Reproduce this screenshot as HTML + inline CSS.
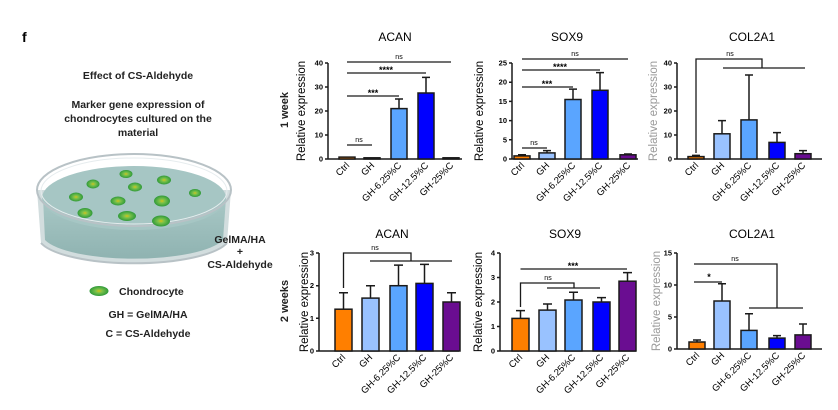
<!DOCTYPE html>
<html><head><meta charset="utf-8"><style>
body{margin:0;background:#fff}
svg{display:block;font-family:"Liberation Sans",Arial,sans-serif}
.b{stroke:#1a1a1a;stroke-width:1.5}
.ax{stroke:#1a1a1a;stroke-width:1.5;fill:none}
.tk{font-size:7.5px;text-anchor:end;font-weight:bold}
.xl{font-size:9.5px;text-anchor:end}
.yl{font-size:11.5px;text-anchor:middle}
.ti{font-size:12px;text-anchor:middle}
.sg{font-size:7px;text-anchor:middle}
.st{font-size:9px;text-anchor:middle;font-weight:bold}
.L{font-size:10.5px;font-weight:bold;text-anchor:middle;fill:#222}
</style></head><body>
<svg width="838" height="410" viewBox="0 0 838 410">
<defs>
<radialGradient id="cell" cx="50%" cy="50%" r="50%"><stop offset="0" stop-color="#d4c21a"/><stop offset="0.35" stop-color="#7cc24a"/><stop offset="1" stop-color="#2f9a3a"/></radialGradient>
<linearGradient id="liq" x1="0" y1="0" x2="0" y2="1"><stop offset="0" stop-color="#a9c8c6"/><stop offset="1" stop-color="#8fb3b1"/></linearGradient>
</defs>
<text x="22" y="42" style="font-size:14px;font-weight:bold">f</text>
<text class="L" x="138" y="79">Effect of CS-Aldehyde</text>
<text class="L" x="138" y="108">Marker gene expression of</text>
<text class="L" x="138" y="122">chondrocytes cultured on the</text>
<text class="L" x="138" y="136">material</text>
<!-- dish -->
<path d="M37 190 L41 243 A96 27 0 0 0 227 243 L231 190 Z" fill="#c7d4d6" opacity="0.8"/>
<path d="M43 198 L45 240 A92 25 0 0 0 223 240 L226 198 Z" fill="url(#liq)"/>
<ellipse cx="134" cy="198" rx="92" ry="32" fill="#a6c6c4"/>
<ellipse cx="134" cy="190" rx="97" ry="36" fill="none" stroke="#b8c2c6" stroke-width="2"/>
<ellipse cx="134" cy="191" rx="93" ry="33" fill="none" stroke="#e6ecee" stroke-width="1"/>
<path d="M41 243 A96 27 0 0 0 227 243" fill="none" stroke="#b8c2c6" stroke-width="2"/>
<g fill="url(#cell)">
<ellipse cx="126" cy="174" rx="6.5" ry="4"/><ellipse cx="93" cy="184" rx="6.5" ry="4.5"/><ellipse cx="164" cy="180" rx="7" ry="4.5"/>
<ellipse cx="135" cy="187" rx="7" ry="4.5"/><ellipse cx="195" cy="193" rx="6" ry="4"/><ellipse cx="76" cy="197" rx="7" ry="4.5"/>
<ellipse cx="118" cy="201" rx="7.5" ry="4.5"/><ellipse cx="162" cy="201" rx="8" ry="5.5"/><ellipse cx="85" cy="213" rx="7.5" ry="5"/>
<ellipse cx="127" cy="216" rx="9" ry="5"/><ellipse cx="161" cy="221" rx="9" ry="5.5"/></g>
<text class="L" x="240" y="243">GelMA/HA</text>
<text class="L" x="240" y="255">+</text>
<text class="L" x="240" y="268">CS-Aldehyde</text>
<ellipse cx="99" cy="291" rx="9.5" ry="5" fill="url(#cell)"/>
<text x="119" y="295" style="font-size:10.5px;font-weight:bold;fill:#222">Chondrocyte</text>
<text class="L" x="148" y="318">GH = GelMA/HA</text>
<text class="L" x="148" y="337">C = CS-Aldehyde</text>
<text x="288" y="110" class="L" transform="rotate(-90 288 110)" style="font-size:11px">1 week</text>
<text x="288" y="301" class="L" transform="rotate(-90 288 301)" style="font-size:11px">2 weeks</text>

<!-- A1 -->
<g transform="translate(328,159)">
<text class="ti" x="67" y="-118">ACAN</text>
<text class="yl" transform="translate(-23,-48) rotate(-90)">Relative expression</text>
<path class="ax" d="M0 -96 V0 H134 M-3 0 H0 M-3 -24 H0 M-3 -48 H0 M-3 -72 H0 M-3 -96 H0"/>
<text class="tk" x="-5" y="2.5">0</text><text class="tk" x="-5" y="-21.5">10</text><text class="tk" x="-5" y="-45.5">20</text><text class="tk" x="-5" y="-69.5">30</text><text class="tk" x="-5" y="-93.5">40</text>
<g class="b"><rect x="11" y="-1.9" width="16" height="1.9" fill="#ff7f00"/><rect x="36" y="-1.2" width="16" height="1.2" fill="#99c2ff"/><rect x="63" y="-50.4" width="16" height="50.4" fill="#5aa5ff"/><rect x="90" y="-66" width="16" height="66" fill="#0000ff"/><rect x="115" y="-1.2" width="16" height="1.2" fill="#6a0d91"/>
<path d="M71 -50 V-60 M67 -60 H75 M98 -66 V-81.6 M94 -81.6 H102" fill="none"/></g>
<g class="ax" style="stroke-width:1.3"><path d="M19 -14 H44 M19 -63 H71 M19 -86 H98 M19 -97 H123"/></g>
<text class="sg" x="31" y="-17">ns</text><text class="st" x="45" y="-63">***</text><text class="st" x="58" y="-86">****</text><text class="sg" x="71" y="-100">ns</text>
<g class="xl"><text transform="translate(22,7) rotate(-45)">Ctrl</text><text transform="translate(47,7) rotate(-45)">GH</text><text transform="translate(74,7) rotate(-45)">GH-6.25%C</text><text transform="translate(101,7) rotate(-45)">GH-12.5%C</text><text transform="translate(126,7) rotate(-45)">GH-25%C</text></g>
</g>

<!-- S1 -->
<g transform="translate(512,159)">
<text class="ti" x="55" y="-118">SOX9</text>
<text class="yl" transform="translate(-29,-48) rotate(-90)">Relative expression</text>
<path class="ax" d="M0 -96 V0 H126 M-3 0 H0 M-3 -19.2 H0 M-3 -38.4 H0 M-3 -57.6 H0 M-3 -76.8 H0 M-3 -96 H0"/>
<text class="tk" x="-5" y="2.5">0</text><text class="tk" x="-5" y="-16.7">5</text><text class="tk" x="-5" y="-35.9">10</text><text class="tk" x="-5" y="-55.1">15</text><text class="tk" x="-5" y="-74.3">20</text><text class="tk" x="-5" y="-93.5">25</text>
<g class="b"><rect x="2" y="-3.1" width="16" height="3.1" fill="#ff7f00"/><rect x="27" y="-6.1" width="16" height="6.1" fill="#99c2ff"/><rect x="53" y="-59.5" width="16" height="59.5" fill="#5aa5ff"/><rect x="80" y="-68.7" width="16" height="68.7" fill="#0000ff"/><rect x="108" y="-4.2" width="16" height="4.2" fill="#6a0d91"/>
<path d="M10 -3 V-4.2 M6 -4.2 H14 M35 -6 V-8.4 M31 -8.4 H39 M61 -59.5 V-69.9 M57 -69.9 H65 M88 -68.7 V-86.4 M84 -86.4 H92 M116 -4.2 V-5 M112 -5 H120" fill="none"/></g>
<g class="ax" style="stroke-width:1.3"><path d="M10 -11 H35 M10 -72 H61 M10 -89 H88 M10 -100 H116"/></g>
<text class="sg" x="22" y="-14">ns</text><text class="st" x="35" y="-72">***</text><text class="st" x="48" y="-89">****</text><text class="sg" x="63" y="-103">ns</text>
<g class="xl"><text transform="translate(13,7) rotate(-45)">Ctrl</text><text transform="translate(38,7) rotate(-45)">GH</text><text transform="translate(64,7) rotate(-45)">GH-6.25%C</text><text transform="translate(91,7) rotate(-45)">GH-12.5%C</text><text transform="translate(119,7) rotate(-45)">GH-25%C</text></g>
</g>

<!-- C1 -->
<g transform="translate(677,159)">
<text class="ti" x="75" y="-118">COL2A1</text>
<text class="yl" transform="translate(-20,-48) rotate(-90)" style="fill:#999">Relative expression</text>
<path class="ax" d="M0 -96 V0 H145 M-3 0 H0 M-3 -24 H0 M-3 -48 H0 M-3 -72 H0 M-3 -96 H0"/>
<text class="tk" x="-5" y="2.5">0</text><text class="tk" x="-5" y="-21.5">10</text><text class="tk" x="-5" y="-45.5">20</text><text class="tk" x="-5" y="-69.5">30</text><text class="tk" x="-5" y="-93.5">40</text>
<g class="b"><rect x="11" y="-2.4" width="16" height="2.4" fill="#ff7f00"/><rect x="37" y="-25.2" width="16" height="25.2" fill="#99c2ff"/><rect x="64" y="-39.1" width="16" height="39.1" fill="#5aa5ff"/><rect x="92" y="-16.6" width="16" height="16.6" fill="#0000ff"/><rect x="118" y="-5.3" width="16" height="5.3" fill="#6a0d91"/>
<path d="M19 -2.4 V-3.6 M15 -3.6 H23 M45 -25.2 V-38.4 M41 -38.4 H49 M72 -39.1 V-84 M68 -84 H76 M100 -16.6 V-26.4 M96 -26.4 H104 M126 -5.3 V-8.4 M122 -8.4 H130" fill="none"/></g>
<path class="ax" style="stroke-width:1.3" d="M19 -6 V-100 H85 V-91 M46 -91 H128"/>
<text class="sg" x="53" y="-103">ns</text>
<g class="xl"><text transform="translate(22,7) rotate(-45)">Ctrl</text><text transform="translate(48,7) rotate(-45)">GH</text><text transform="translate(75,7) rotate(-45)">GH-6.25%C</text><text transform="translate(103,7) rotate(-45)">GH-12.5%C</text><text transform="translate(129,7) rotate(-45)">GH-25%C</text></g>
</g>

<!-- A2 -->
<g transform="translate(319,351)">
<text class="ti" x="73" y="-113">ACAN</text>
<text class="yl" transform="translate(-11,-49) rotate(-90)">Relative expression</text>
<path class="ax" d="M0 -98 V0 H140 M-3 0 H0 M-3 -32.7 H0 M-3 -65.3 H0 M-3 -98 H0"/>
<text class="tk" x="-5" y="2.5">0</text><text class="tk" x="-5" y="-30.2">1</text><text class="tk" x="-5" y="-62.8">2</text><text class="tk" x="-5" y="-95.5">3</text>
<g class="b"><rect x="16" y="-41.8" width="17" height="41.8" fill="#ff7f00"/><rect x="43" y="-52.9" width="17" height="52.9" fill="#99c2ff"/><rect x="71" y="-65.3" width="17" height="65.3" fill="#5aa5ff"/><rect x="97" y="-67.6" width="17" height="67.6" fill="#0000ff"/><rect x="124" y="-49" width="17" height="49" fill="#6a0d91"/>
<path d="M24.5 -41.8 V-58.2 M20 -58.2 H29 M51.5 -52.9 V-65.3 M47 -65.3 H56 M79.5 -65.3 V-85.9 M75 -85.9 H84 M105.5 -67.6 V-86.6 M101 -86.6 H110 M132.5 -49 V-58.2 M128 -58.2 H137" fill="none"/></g>
<path class="ax" style="stroke-width:1.3" d="M24.5 -63 V-98 H92 V-90 M51 -90 H133"/>
<text class="sg" x="56" y="-101">ns</text>
<g class="xl"><text transform="translate(27,7) rotate(-45)">Ctrl</text><text transform="translate(54,7) rotate(-45)">GH</text><text transform="translate(82,7) rotate(-45)">GH-6.25%C</text><text transform="translate(108,7) rotate(-45)">GH-12.5%C</text><text transform="translate(135,7) rotate(-45)">GH-25%C</text></g>
</g>

<!-- S2 -->
<g transform="translate(500,351)">
<text class="ti" x="65" y="-113">SOX9</text>
<text class="yl" transform="translate(-18,-49) rotate(-90)">Relative expression</text>
<path class="ax" d="M0 -98 V0 H136 M-3 0 H0 M-3 -24.5 H0 M-3 -49 H0 M-3 -73.5 H0 M-3 -98 H0"/>
<text class="tk" x="-5" y="2.5">0</text><text class="tk" x="-5" y="-22">1</text><text class="tk" x="-5" y="-46.5">2</text><text class="tk" x="-5" y="-71">3</text><text class="tk" x="-5" y="-95.5">4</text>
<g class="b"><rect x="12" y="-32.6" width="17" height="32.6" fill="#ff7f00"/><rect x="39" y="-40.9" width="17" height="40.9" fill="#99c2ff"/><rect x="65" y="-51" width="17" height="51" fill="#5aa5ff"/><rect x="93" y="-49" width="17" height="49" fill="#0000ff"/><rect x="119" y="-69.8" width="17" height="69.8" fill="#6a0d91"/>
<path d="M20.5 -32.6 V-40.4 M16 -40.4 H25 M47.5 -40.9 V-47 M43 -47 H52 M73.5 -51 V-58.8 M69 -58.8 H78 M101.5 -49 V-53.4 M97 -53.4 H106 M127.5 -69.8 V-78.4 M123 -78.4 H132" fill="none"/></g>
<path class="ax" style="stroke-width:1.3" d="M20.5 -44 V-68 H74 V-63 M47 -63 H100 M20.5 -82 H127"/>
<text class="sg" x="48" y="-71">ns</text><text class="st" x="73" y="-82">***</text>
<g class="xl"><text transform="translate(23,7) rotate(-45)">Ctrl</text><text transform="translate(50,7) rotate(-45)">GH</text><text transform="translate(76,7) rotate(-45)">GH-6.25%C</text><text transform="translate(104,7) rotate(-45)">GH-12.5%C</text><text transform="translate(130,7) rotate(-45)">GH-25%C</text></g>
</g>

<!-- C2 -->
<g transform="translate(677,349)">
<text class="ti" x="75" y="-111">COL2A1</text>
<text class="yl" transform="translate(-17,-48) rotate(-90)" style="fill:#999">Relative expression</text>
<path class="ax" d="M0 -96 V0 H145 M-3 0 H0 M-3 -32 H0 M-3 -64 H0 M-3 -96 H0"/>
<text class="tk" x="-5" y="2.5">0</text><text class="tk" x="-5" y="-29.5">5</text><text class="tk" x="-5" y="-61.5">10</text><text class="tk" x="-5" y="-93.5">15</text>
<g class="b"><rect x="12" y="-7" width="16" height="7" fill="#ff7f00"/><rect x="37" y="-48" width="16" height="48" fill="#99c2ff"/><rect x="64" y="-18.6" width="16" height="18.6" fill="#5aa5ff"/><rect x="92" y="-10.9" width="16" height="10.9" fill="#0000ff"/><rect x="118" y="-14.1" width="16" height="14.1" fill="#6a0d91"/>
<path d="M20 -7 V-9 M16 -9 H24 M45 -48 V-65.3 M41 -65.3 H49 M72 -18.6 V-35.2 M68 -35.2 H76 M100 -10.9 V-13.4 M96 -13.4 H104 M126 -14.1 V-25 M122 -25 H130" fill="none"/></g>
<path class="ax" style="stroke-width:1.3" d="M17 -67 H45 M17 -85 H100 V-41 M72 -41 H126"/>
<text class="st" x="32" y="-69">*</text><text class="sg" x="58" y="-88">ns</text>
<g class="xl"><text transform="translate(23,7) rotate(-45)">Ctrl</text><text transform="translate(48,7) rotate(-45)">GH</text><text transform="translate(75,7) rotate(-45)">GH-6.25%C</text><text transform="translate(103,7) rotate(-45)">GH-12.5%C</text><text transform="translate(129,7) rotate(-45)">GH-25%C</text></g>
</g>
</svg>
</body></html>
